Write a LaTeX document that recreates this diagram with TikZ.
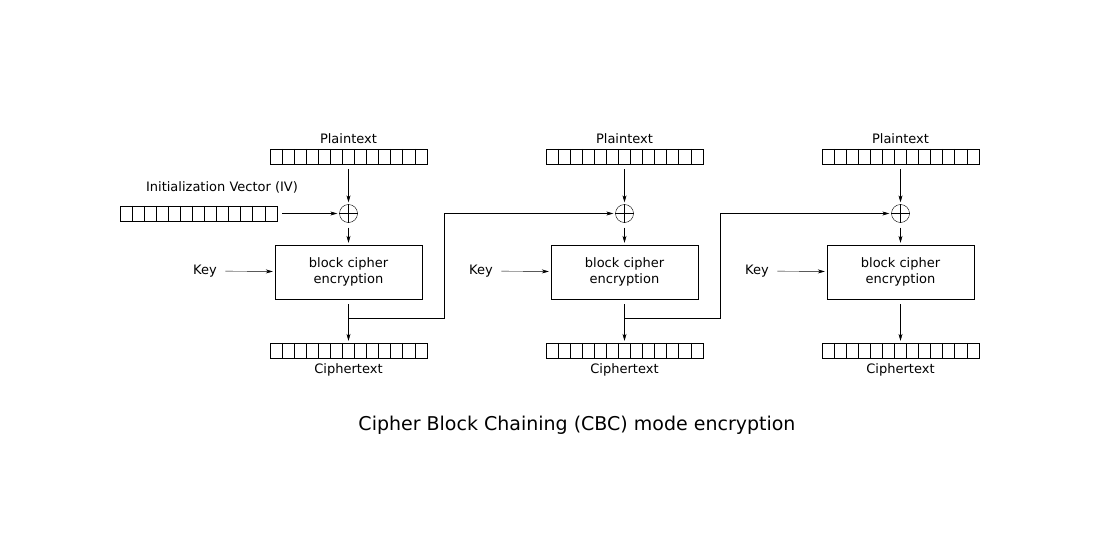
\documentclass[tikz,border=0pt]{standalone}
\usepackage{fontspec}
\setmainfont{DejaVu Sans}
\usetikzlibrary{arrows.meta, positioning}
\tikzset{reg/.style={draw,minimum width=157pt,minimum height=15pt,inner sep=0pt},
         xorop/.style={draw,circle,minimum size=18pt,inner sep=0pt},
         cipherbox/.style={draw,minimum width=147pt,minimum height=54pt,align=center,font=\fontsize{13}{16}\selectfont},
         lbl/.style={font=\fontsize{13}{16}\selectfont},
         arr/.style={-{Stealth[length=7pt,width=4pt]},shorten >=2pt,shorten <=5pt}}
\newcommand{\cells}[1]{%
  \foreach \i in {1,...,12}
    \draw ([xshift=\i*157pt/13]#1.north west)--([xshift=\i*157pt/13]#1.south west);}
\begin{document}
\begin{tikzpicture}[x=1pt,y=-1pt]
  \useasboundingbox (0,0) rectangle (1099,541);
  % initialization vector
  \node[reg](iv)at(198.5,213.5){};
  \cells{iv}
  \node[lbl](ivl)at(222,187){Initialization Vector (IV)};
  \foreach \s/\dx in {1/0,2/276,3/552}{
    \node[reg](p\s)at(348.5+\dx,156.5){};
    \cells{p\s}
    \node[lbl,above=2pt of p\s](pl\s){Plaintext};
    \node[xorop](x\s)at(348.5+\dx,213.5){};
    \draw (x\s.north)--(x\s.south) (x\s.west)--(x\s.east);
    \node[cipherbox](e\s)at(348.5+\dx,272){block cipher\\encryption};
    \node[lbl](k\s)at(205+\dx,271){Key};
    \node[reg](c\s)at(348.5+\dx,350.5){};
    \cells{c\s}
    \node[lbl,below=2pt of c\s](cl\s){Ciphertext};
    \draw[arr](p\s)--(x\s);
    \draw[arr](x\s)--(e\s);
    \draw[arr](k\s)--(e\s);
    \draw[arr](e\s)--(c\s);
  }
  \draw[arr](iv)--(x1);
  % chaining
  \coordinate (j1) at (348.5,318);
  \coordinate (j2) at (624.5,318);
  \draw (j1)-|(444,213.5) coordinate (u1);
  \draw[-{Stealth[length=7pt,width=4pt]},shorten >=2pt] (u1)--(x2);
  \draw (j2)-|(720,213.5) coordinate (u2);
  \draw[-{Stealth[length=7pt,width=4pt]},shorten >=2pt] (u2)--(x3);
  \node[font=\fontsize{19}{23}\selectfont](title)at(577,425){Cipher Block Chaining (CBC) mode encryption};
\end{tikzpicture}
\end{document}
